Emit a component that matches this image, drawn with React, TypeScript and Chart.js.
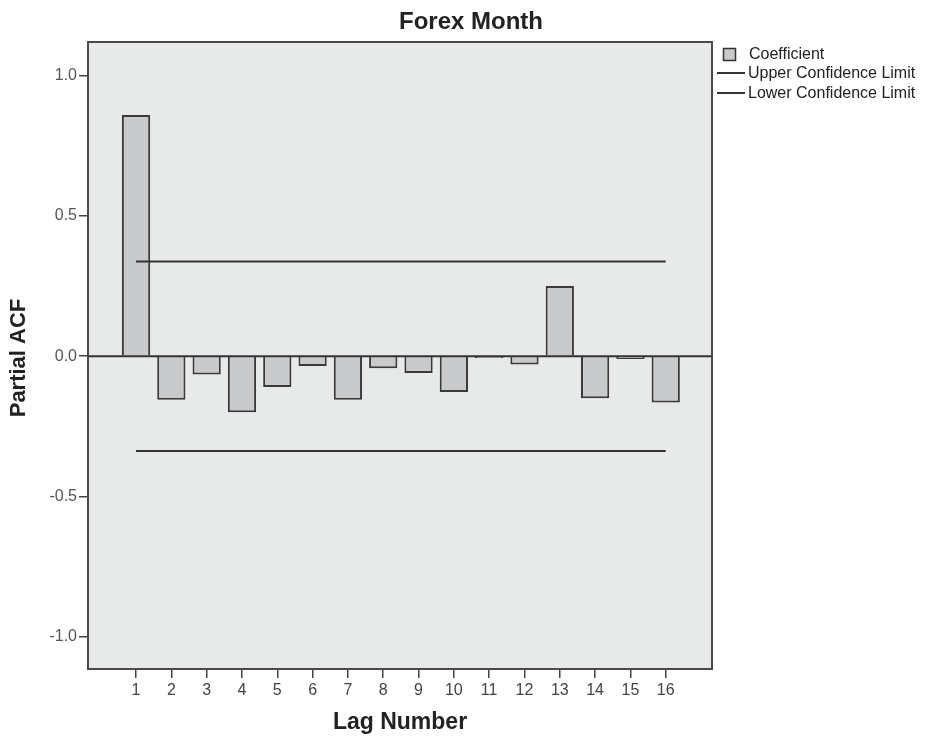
import React, { useEffect, useRef } from "react";
import { Chart, registerables } from "chart.js";

Chart.register(...registerables);

const lags = [1, 2, 3, 4, 5, 6, 7, 8, 9, 10, 11, 12, 13, 14, 15, 16];
const coefficients = [0.86, -0.155, -0.065, -0.2, -0.11, -0.035, -0.155, -0.043, -0.06, -0.128, -0.006, -0.03, 0.25, -0.15, -0.01, -0.165];
const upperLimit = [0.338, 0.338];
const lowerLimit = [-0.338, -0.338];
const limitLags = [1, 16];
const yTicks = [-1, -0.5, 0, 0.5, 1];

const FONT = "'Liberation Sans', Arial, sans-serif";

const decorPlugin = {
  id: "decor",
  beforeDraw(chart: any) {
    const { ctx, chartArea: a } = chart;
    ctx.save();
    ctx.fillStyle = "#e8eae9";
    ctx.fillRect(a.left, a.top, a.right - a.left, a.bottom - a.top);
    ctx.restore();
  },
  afterDatasetsDraw(chart: any) {
    const { ctx, chartArea: a, scales } = chart;
    ctx.save();
    const y0 = scales.y.getPixelForValue(0);
    ctx.strokeStyle = "#333";
    ctx.lineWidth = 2;
    ctx.beginPath();
    ctx.moveTo(a.left, y0);
    ctx.lineTo(a.right, y0);
    ctx.stroke();
    ctx.lineWidth = 2;
    ctx.strokeStyle = "#4a4a4a";
    ctx.strokeRect(a.left, a.top, a.right - a.left, a.bottom - a.top);

    // title
    ctx.fillStyle = "#222";
    ctx.textAlign = "center";
    ctx.textBaseline = "middle";
    ctx.font = `bold 24px ${FONT}`;
    ctx.fillText("Forex Month", 471, 22);
    ctx.font = `bold 23px ${FONT}`;
    ctx.fillText("Lag Number", 400, 723);
    ctx.save();
    ctx.translate(19, 358);
    ctx.rotate(-Math.PI / 2);
    ctx.font = `bold 22px ${FONT}`;
    ctx.fillText("Partial ACF", 0, 0);
    ctx.restore();

    // legend
    ctx.textAlign = "left";
    ctx.font = `16px ${FONT}`;
    ctx.fillStyle = "#c9cacc";
    ctx.fillRect(723.5, 48.5, 12, 12);
    ctx.strokeStyle = "#333";
    ctx.lineWidth = 1.5;
    ctx.strokeRect(723.5, 48.5, 12, 12);
    ctx.fillStyle = "#222";
    ctx.fillText("Coefficient", 749, 55);
    ctx.lineWidth = 2;
    ctx.beginPath();
    ctx.moveTo(717, 73);
    ctx.lineTo(745, 73);
    ctx.moveTo(717, 93);
    ctx.lineTo(745, 93);
    ctx.stroke();
    ctx.fillText("Upper Confidence Limit", 748, 74);
    ctx.fillText("Lower Confidence Limit", 748, 94);
    ctx.restore();
  },
};

export default function App() {
  const ref = useRef<HTMLCanvasElement>(null);
  useEffect(() => {
    if (!ref.current) return;
    const chart = new Chart(ref.current, {
      type: "bar",
      data: {
        datasets: [
          {
            type: "bar",
            label: "Coefficient",
            data: lags.map((l, i) => ({ x: l, y: coefficients[i] })),
            backgroundColor: "#c9cacc",
            borderColor: "#3a3a3a",
            borderWidth: 2,
            barPercentage: 0.8,
            categoryPercentage: 1,
            order: 2,
          } as any,
          {
            type: "line",
            label: "Upper Confidence Limit",
            data: limitLags.map((l, i) => ({ x: l, y: upperLimit[i] })),
            borderColor: "#333",
            borderWidth: 2,
            pointRadius: 0,
            fill: false,
            order: 1,
          } as any,
          {
            type: "line",
            label: "Lower Confidence Limit",
            data: limitLags.map((l, i) => ({ x: l, y: lowerLimit[i] })),
            borderColor: "#333",
            borderWidth: 2,
            pointRadius: 0,
            fill: false,
            order: 1,
          } as any,
        ],
      },
      options: {
        animation: false,
        responsive: false,
        maintainAspectRatio: false,
        layout: { padding: { left: 0, top: 42, right: 219, bottom: 0 } },
        plugins: { legend: { display: false }, tooltip: { enabled: false }, title: { display: false } },
        scales: {
          x: {
            type: "linear",
            offset: false,
            min: -0.36,
            max: 17.31,
            afterBuildTicks: (s: any) => {
              s.ticks = lags.map((v) => ({ value: v }));
            },
            afterFit: (s: any) => {
              s.height = 72;
            },
            grid: { display: true, offset: false, drawOnChartArea: false, drawTicks: true, tickLength: 9, color: "#444", lineWidth: 1.5 },
            border: { display: false },
            ticks: { color: "#444", font: { size: 16, family: FONT }, padding: 3, callback: (v: any) => String(v) },
          },
          y: {
            type: "linear",
            min: -1.115,
            max: 1.12,
            afterBuildTicks: (s: any) => {
              s.ticks = yTicks.map((v) => ({ value: v }));
            },
            afterFit: (s: any) => {
              s.width = 88;
            },
            grid: { display: true, drawOnChartArea: false, drawTicks: true, tickLength: 9, color: "#444", lineWidth: 1.5 },
            border: { display: false },
            ticks: { color: "#555", font: { size: 16, family: FONT }, padding: 2, callback: (v: any) => Number(v).toFixed(1) },
          },
        },
      } as any,
      plugins: [decorPlugin],
    });
    return () => chart.destroy();
  }, []);
  return (
    <div style={{ position: "fixed", left: 0, top: 0, width: 931, height: 741, background: "#fff" }}>
      <canvas ref={ref} width={931} height={741} style={{ width: 931, height: 741 }} />
    </div>
  );
}
